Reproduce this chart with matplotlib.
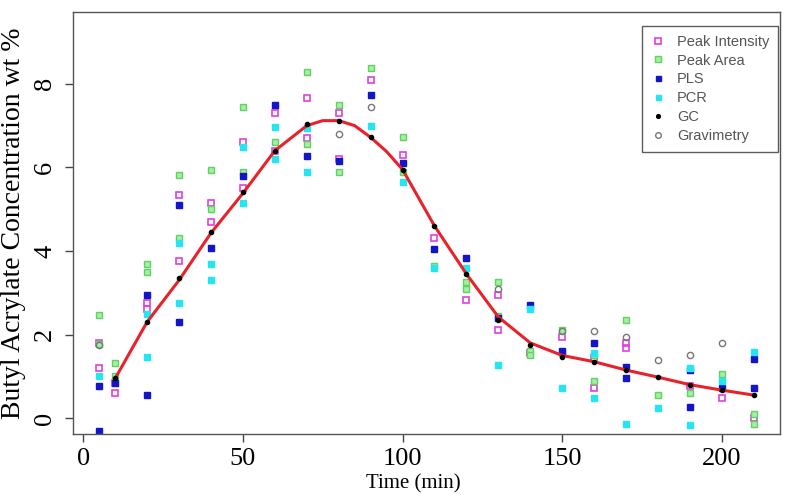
import matplotlib
matplotlib.use('Agg')
from matplotlib import pyplot as plt

pi_t = [5, 5, 10, 10, 20, 20, 30, 30, 40, 40, 50, 50, 60, 60, 70, 70, 80, 80,
        90, 100, 110, 120, 130, 130, 140, 150, 160, 160, 170, 170, 190, 200, 210]
pi_y = [1.8, 1.2, 0.85, 0.6, 2.75, 2.6, 5.35, 3.75, 5.15, 4.7, 6.6, 5.5, 7.3, 6.4,
        7.66, 6.7, 7.3, 6.2, 8.1, 6.3, 4.3, 2.83, 2.95, 2.1, 1.55, 1.95, 1.45, 0.72,
        1.8, 1.68, 0.77, 0.48, 0.0]

pa_t = [5, 5, 10, 10, 20, 20, 30, 30, 40, 40, 50, 50, 60, 70, 70, 80, 80, 90,
        100, 100, 110, 120, 120, 130, 130, 140, 140, 150, 150, 160, 160, 170,
        180, 190, 200, 210, 210]
pa_y = [2.47, 1.78, 1.32, 1.0, 3.7, 3.5, 5.82, 4.3, 5.94, 5.0, 7.45, 5.9, 6.6,
        8.29, 6.55, 7.5, 5.9, 8.38, 6.73, 5.9, 3.65, 3.25, 3.1, 3.25, 2.45, 1.6,
        1.5, 2.1, 1.55, 1.5, 0.9, 2.35, 0.55, 0.6, 1.05, 0.1, -0.15]

pls_t = [5, 5, 10, 20, 20, 30, 30, 40, 50, 60, 70, 80, 90, 100, 110, 120, 130,
         140, 150, 160, 170, 170, 190, 190, 200, 210, 210]
pls_y = [0.77, -0.3, 0.85, 2.95, 0.55, 5.1, 2.3, 4.07, 5.8, 7.5, 6.27, 6.15, 7.74,
         6.1, 4.05, 3.83, 2.4, 2.7, 1.6, 1.8, 1.22, 0.95, 1.15, 0.27, 0.72, 1.42, 0.72]

pcr_t = [5, 20, 20, 30, 30, 40, 40, 50, 50, 60, 60, 70, 70, 90, 100, 110, 120,
         130, 140, 150, 160, 160, 170, 180, 190, 190, 200, 210]
pcr_y = [1.0, 2.5, 1.46, 4.2, 2.75, 3.7, 3.3, 6.5, 5.15, 6.97, 6.2, 6.95, 5.89,
         7.0, 5.65, 3.6, 3.6, 1.27, 2.6, 0.72, 1.55, 0.48, -0.14, 0.24, 1.2, -0.17,
         0.9, 1.58]

gc_t = [10, 20, 30, 40, 50, 60, 70, 80, 90, 100, 110, 120, 130, 140, 150, 160,
        170, 180, 190, 200, 210]
gc_y = [0.95, 2.3, 3.35, 4.45, 5.4, 6.4, 7.05, 7.1, 6.73, 5.95, 4.6, 3.45, 2.35,
        1.75, 1.47, 1.35, 1.15, 0.98, 0.8, 0.68, 0.55]

grav_t = [5, 80, 90, 130, 150, 160, 170, 180, 190, 200]
grav_y = [1.75, 6.8, 7.45, 3.1, 2.08, 2.08, 1.94, 1.39, 1.51, 1.8]

# fitted curve
fit_t = [10, 20, 30, 40, 50, 60, 70, 75, 80, 85, 90, 95, 100, 110, 120, 130,
         140, 150, 160, 170, 180, 190, 200, 210]
fit_y = [0.95, 2.3, 3.3, 4.43, 5.38, 6.4, 7.0, 7.12, 7.12, 7.0, 6.72, 6.38, 5.95,
         4.6, 3.45, 2.42, 1.8, 1.5, 1.35, 1.15, 0.98, 0.8, 0.67, 0.55]

fig = plt.figure(figsize=(7.94, 4.95), dpi=100)
ax = fig.add_axes([73/794, 1 - 434/495, (780-73)/794, (434-12)/495])

ax.plot(pi_t, pi_y, 's', ms=5, mfc='none', mec='#e040e0', mew=1.2,
        label='Peak Intensity', zorder=2)
ax.plot(pa_t, pa_y, 's', ms=5, mfc='#a8eca8', mec='#5fd35f', mew=1.0,
        label='Peak Area', zorder=2)
ax.plot(pls_t, pls_y, 's', ms=4, color='#1414c8', label='PLS', zorder=2)
ax.plot(pcr_t, pcr_y, 's', ms=4, color='#25e6f0', label='PCR', zorder=2)
ax.plot(gc_t, gc_y, 'o', ms=3, color='black', label='GC', zorder=4)
ax.plot(grav_t, grav_y, 'o', ms=4.5, mfc='none', mec='#777777', mew=1.0,
        label='Gravimetry', zorder=2)
ax.plot(fit_t, fit_y, '-', color='#e8222a', lw=2.2, zorder=3)

ax.set_xlim(-3.2, 218.2)
ax.set_ylim(-0.38, 9.72)
ax.set_xticks([0, 50, 100, 150, 200])
ax.set_yticks([0, 2, 4, 6, 8])

serif = ['Liberation Serif', 'DejaVu Serif']
for lab in ax.get_xticklabels():
    lab.set_family(serif)
    lab.set_fontsize(19)
for lab in ax.get_yticklabels():
    lab.set_family(serif)
    lab.set_fontsize(19)
    lab.set_rotation(90)
    lab.set_va('center')
ax.tick_params(direction='out', length=6, width=1, color='#444444', pad=4)
ax.tick_params(axis='y', pad=6)
for s in ax.spines.values():
    s.set_color('#555555')
    s.set_linewidth(1)

ax.set_ylabel('Butyl Acrylate Concentration wt %', family=serif, fontsize=20,
              labelpad=6)
# x label sits right at the lower edge, as in the source image
fig.text(0.52, 0.004, 'Time (min)', family=serif, fontsize=15,
         ha='center', va='bottom')

leg = ax.legend(loc='upper right', bbox_to_anchor=(778/794, 1 - 26/495),
                bbox_transform=fig.transFigure, borderaxespad=0,
                prop={'family': 'Liberation Sans', 'size': 10.5},
                fancybox=False, frameon=True, handlelength=1.0,
                handletextpad=0.8, labelspacing=0.33, markerscale=0.9,
                borderpad=0.6)
leg.get_frame().set_edgecolor('#333333')
leg.get_frame().set_linewidth(1)
for txt in leg.get_texts():
    txt.set_color('#555555')

fig.savefig('out.png', dpi=100)
